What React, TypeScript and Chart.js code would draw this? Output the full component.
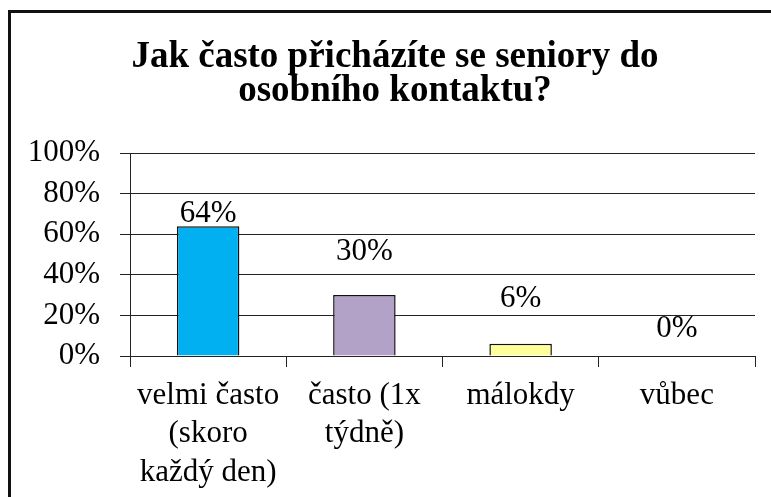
import React, { useEffect, useRef } from "react";
import { Chart, registerables } from "chart.js";

Chart.register(...registerables);

const titleLines = ["Jak často přicházíte se seniory do", "osobního kontaktu?"];
const categories = [
  ["velmi často", "(skoro", "každý den)"],
  ["často (1x", "týdně)"],
  ["málokdy"],
  ["vůbec"],
];
const values = [64, 30, 6, 0];
const barColors = ["#00B0F0", "#B3A2C7", "#FFFF99", "#FFFFFF"];
const yTicks = [0, 20, 40, 60, 80, 100];
// style: gap (px) between bar top and label baseline
const labelGaps = [4, 35, 37, 19];

const FONT = '"Liberation Serif", "Times New Roman", serif';

const labelPlugin = {
  id: "barLabels",
  afterLayout(chart: any) {
    // widen the clip area of y tick labels so "100%" is not cut
    const y = chart.scales.y;
    if (y) y.left = 0;
  },
  afterDatasetsDraw(chart: any) {
    const ctx = chart.ctx;
    const meta = chart.getDatasetMeta(0);
    ctx.save();
    ctx.font = `31px ${FONT}`;
    ctx.fillStyle = "#000";
    ctx.textAlign = "center";
    ctx.textBaseline = "alphabetic";
    meta.data.forEach((bar: any, i: number) => {
      ctx.fillText(values[i] + "%", bar.x, bar.y - labelGaps[i]);
    });
    ctx.restore();
  },
};

export default function App() {
  const ref = useRef<HTMLCanvasElement>(null);
  useEffect(() => {
    if (!ref.current) return;
    const chart = new Chart(ref.current, {
      type: "bar",
      data: {
        labels: categories,
        datasets: [
          {
            data: values,
            backgroundColor: barColors,
            borderColor: "#111",
            borderWidth: 1.5,
            barPercentage: 0.4,
            categoryPercentage: 1,
          },
        ],
      },
      options: {
        animation: false,
        responsive: false,
        devicePixelRatio: 1,
        layout: { padding: { left: 35, right: 16, top: 0, bottom: 0 } },
        plugins: {
          legend: { display: false },
          tooltip: { enabled: false },
          title: {
            display: true,
            text: titleLines,
            color: "#000",
            font: { family: FONT, size: 37, weight: "bold", lineHeight: 0.92 },
            padding: { top: 40, bottom: 45 },
          },
        },
        scales: {
          x: {
            afterFit: (s: any) => {
              s.height = 141;
            },
            grid: {
              drawOnChartArea: false,
              drawTicks: true,
              tickLength: 11,
              color: "#222",
              lineWidth: 1,
            },
            border: { display: true, color: "#222", width: 1 },
            ticks: {
              color: "#000",
              padding: 9,
              maxRotation: 0,
              autoSkip: false,
              font: { family: FONT, size: 31, lineHeight: 1.25 },
            },
          },
          y: {
            min: 0,
            max: 100,
            afterFit: (s: any) => {
              s.width = 95;
            },
            afterBuildTicks: (s: any) => {
              s.ticks = yTicks.map((v) => ({ value: v }));
            },
            grid: {
              color: "#222",
              lineWidth: 1,
              tickLength: 10,
            },
            border: { display: true, color: "#222", width: 1 },
            ticks: {
              color: "#000",
              padding: 20,
              font: { family: FONT, size: 31 },
              callback: (v: any) => v + "%",
            },
          },
        },
      },
      plugins: [labelPlugin],
    });
    return () => chart.destroy();
  }, []);

  return (
    <div
      style={{
        position: "absolute",
        left: 0,
        top: 0,
        width: 771,
        height: 497,
        overflow: "hidden",
        background: "#fff",
      }}
    >
      <div
        style={{
          position: "absolute",
          left: 8,
          top: 10,
          width: 790,
          height: 520,
          border: "3px solid #111",
          boxSizing: "border-box",
        }}
      />
      <canvas
        ref={ref}
        width={771}
        height={497}
        style={{ position: "absolute", left: 0, top: 0, width: 771, height: 497 }}
      />
    </div>
  );
}
